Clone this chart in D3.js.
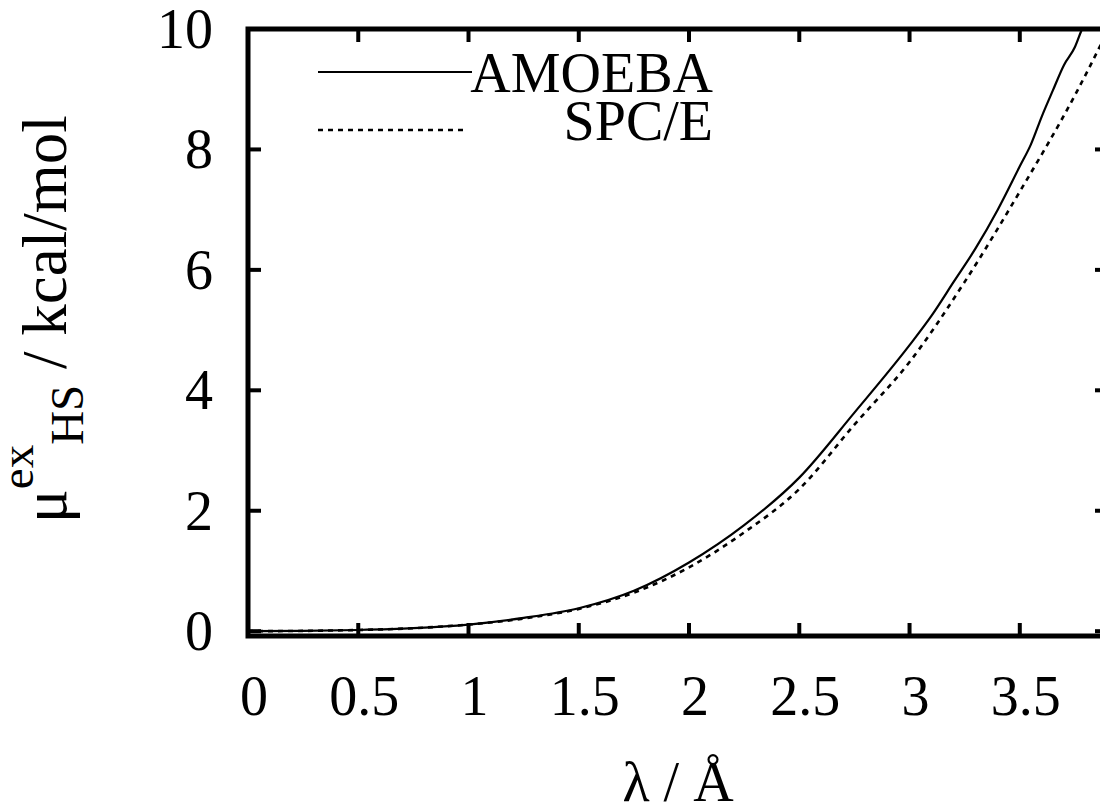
<!DOCTYPE html>
<html>
<head>
<meta charset="utf-8">
<script src="https://cdn.jsdelivr.net/npm/d3@7"></script>
<style>
  body { margin: 0; background: #fff; }
  svg { display: block; font-family: "Liberation Serif", "Times New Roman", serif; }
</style>
</head>
<body>
<div id="chart"></div>
<script>
(function() {
    // lambda (Angstrom) vs excess chemical potential (kcal/mol)
    var amoebaX = [0, 0.25, 0.5, 0.75, 1.0, 1.25, 1.5, 1.75, 2.0, 2.25, 2.5, 2.75, 3.0, 3.1, 3.2, 3.3, 3.4, 3.5, 3.55, 3.6, 3.65, 3.7, 3.75, 3.78, 3.82];
    var amoebaY = [0, 0.005, 0.02, 0.05, 0.11, 0.22, 0.38, 0.67, 1.14, 1.76, 2.55, 3.63, 4.75, 5.24, 5.80, 6.36, 7.0, 7.72, 8.08, 8.55, 8.98, 9.40, 9.70, 9.98, 10.3];
    var spceX = [0, 0.25, 0.5, 0.75, 1.0, 1.25, 1.5, 1.75, 2.0, 2.25, 2.5, 2.75, 3.0, 3.25, 3.5, 3.75, 3.9];
    var spceY = [0, 0.005, 0.02, 0.05, 0.11, 0.21, 0.37, 0.64, 1.06, 1.64, 2.36, 3.43, 4.47, 5.80, 7.30, 8.90, 9.98];

    var xTicks = [0, 0.5, 1, 1.5, 2, 2.5, 3, 3.5];
    var yTicks = [0, 2, 4, 6, 8, 10];
    var seriesNames = ["AMOEBA", "SPC/E"];

    var svgWidth = 1100, svgHeight = 805;
    var margin = {top: 29, right: -8, bottom: 169, left: 248};
    var width = svgWidth - margin.left - margin.right;
    var height = svgHeight - margin.top - margin.bottom;
    var fontSize = 56;
    var tickLen = 13;

    var svg = d3.select("#chart")
        .append("svg")
        .attr("width", svgWidth)
        .attr("height", svgHeight);

    var g = svg.append("g")
        .attr("transform", "translate(" + margin.left + "," + margin.top + ")");

    var x = d3.scaleLinear().domain([0, 3.9]).range([0, width]);
    var y = d3.scaleLinear().domain([-0.08, 10]).range([height, 0]);

    g.append("clipPath").attr("id", "plotClip")
        .append("rect").attr("width", width).attr("height", height);

    var line = d3.line()
        .x(d => x(d[0]))
        .y(d => y(d[1]))
        .curve(d3.curveMonotoneX);

    var amoeba = d3.zip(amoebaX, amoebaY);
    var spce = d3.zip(spceX, spceY);

    g.append("path")
        .datum(spce)
        .attr("clip-path", "url(#plotClip)")
        .attr("fill", "none")
        .attr("stroke", "#000")
        .attr("stroke-width", 2.6)
        .attr("stroke-dasharray", "5,5")
        .attr("d", line);

    g.append("path")
        .datum(amoeba)
        .attr("clip-path", "url(#plotClip)")
        .attr("fill", "none")
        .attr("stroke", "#000")
        .attr("stroke-width", 2.2)
        .attr("d", line);

    // ticks on all four sides, pointing inward
    var ticks = g.append("g").attr("stroke", "#000").attr("stroke-width", 4);
    xTicks.forEach(function(t) {
        ticks.append("line").attr("x1", x(t)).attr("x2", x(t)).attr("y1", height).attr("y2", height - tickLen);
        ticks.append("line").attr("x1", x(t)).attr("x2", x(t)).attr("y1", 0).attr("y2", tickLen);
    });
    yTicks.forEach(function(t) {
        ticks.append("line").attr("x1", 0).attr("x2", tickLen).attr("y1", y(t)).attr("y2", y(t));
        ticks.append("line").attr("x1", width).attr("x2", width - tickLen).attr("y1", y(t)).attr("y2", y(t));
    });

    g.append("rect")
        .attr("width", width)
        .attr("height", height)
        .attr("fill", "none")
        .attr("stroke", "#000")
        .attr("stroke-width", 5);

    // tick labels
    g.selectAll(".xlab")
        .data(xTicks)
        .enter().append("text")
        .attr("class", "xlab")
        .attr("x", d => x(d) + 6)
        .attr("y", height + 79)
        .attr("text-anchor", "middle")
        .attr("font-size", fontSize)
        .text(d => d);

    g.selectAll(".ylab")
        .data(yTicks)
        .enter().append("text")
        .attr("class", "ylab")
        .attr("x", -35)
        .attr("y", d => y(d) + 19)
        .attr("text-anchor", "end")
        .attr("font-size", fontSize)
        .text(d => d);

    // axis titles
    svg.append("text")
        .attr("x", margin.left + width / 2)
        .attr("y", 801)
        .attr("text-anchor", "middle")
        .attr("font-size", fontSize)
        .text("\u03bb / \u00c5");

    var yt = svg.append("text")
        .attr("transform", "translate(66,523) rotate(-90)")
        .attr("font-size", 63);
    yt.append("tspan").text("\u03bc");
    yt.append("tspan").attr("font-size", 47).attr("dy", -33).text("ex");
    yt.append("tspan").attr("font-size", 47).attr("dy", 50).text("HS");
    yt.append("tspan").attr("dy", -17).text(" / kcal/mol");

    // legend
    var legend = svg.append("g");
    legend.append("line").attr("x1", 318).attr("x2", 472).attr("y1", 72).attr("y2", 72)
        .attr("stroke", "#000").attr("stroke-width", 2.2);
    legend.append("line").attr("x1", 318).attr("x2", 468).attr("y1", 130).attr("y2", 130)
        .attr("stroke", "#000").attr("stroke-width", 2.6).attr("stroke-dasharray", "5,5");
    legend.selectAll("text")
        .data(seriesNames)
        .enter().append("text")
        .attr("x", 713)
        .attr("y", (d, i) => 92 + i * 48)
        .attr("text-anchor", "end")
        .attr("font-size", fontSize)
        .text(d => d);
})();
</script>
</body>
</html>
